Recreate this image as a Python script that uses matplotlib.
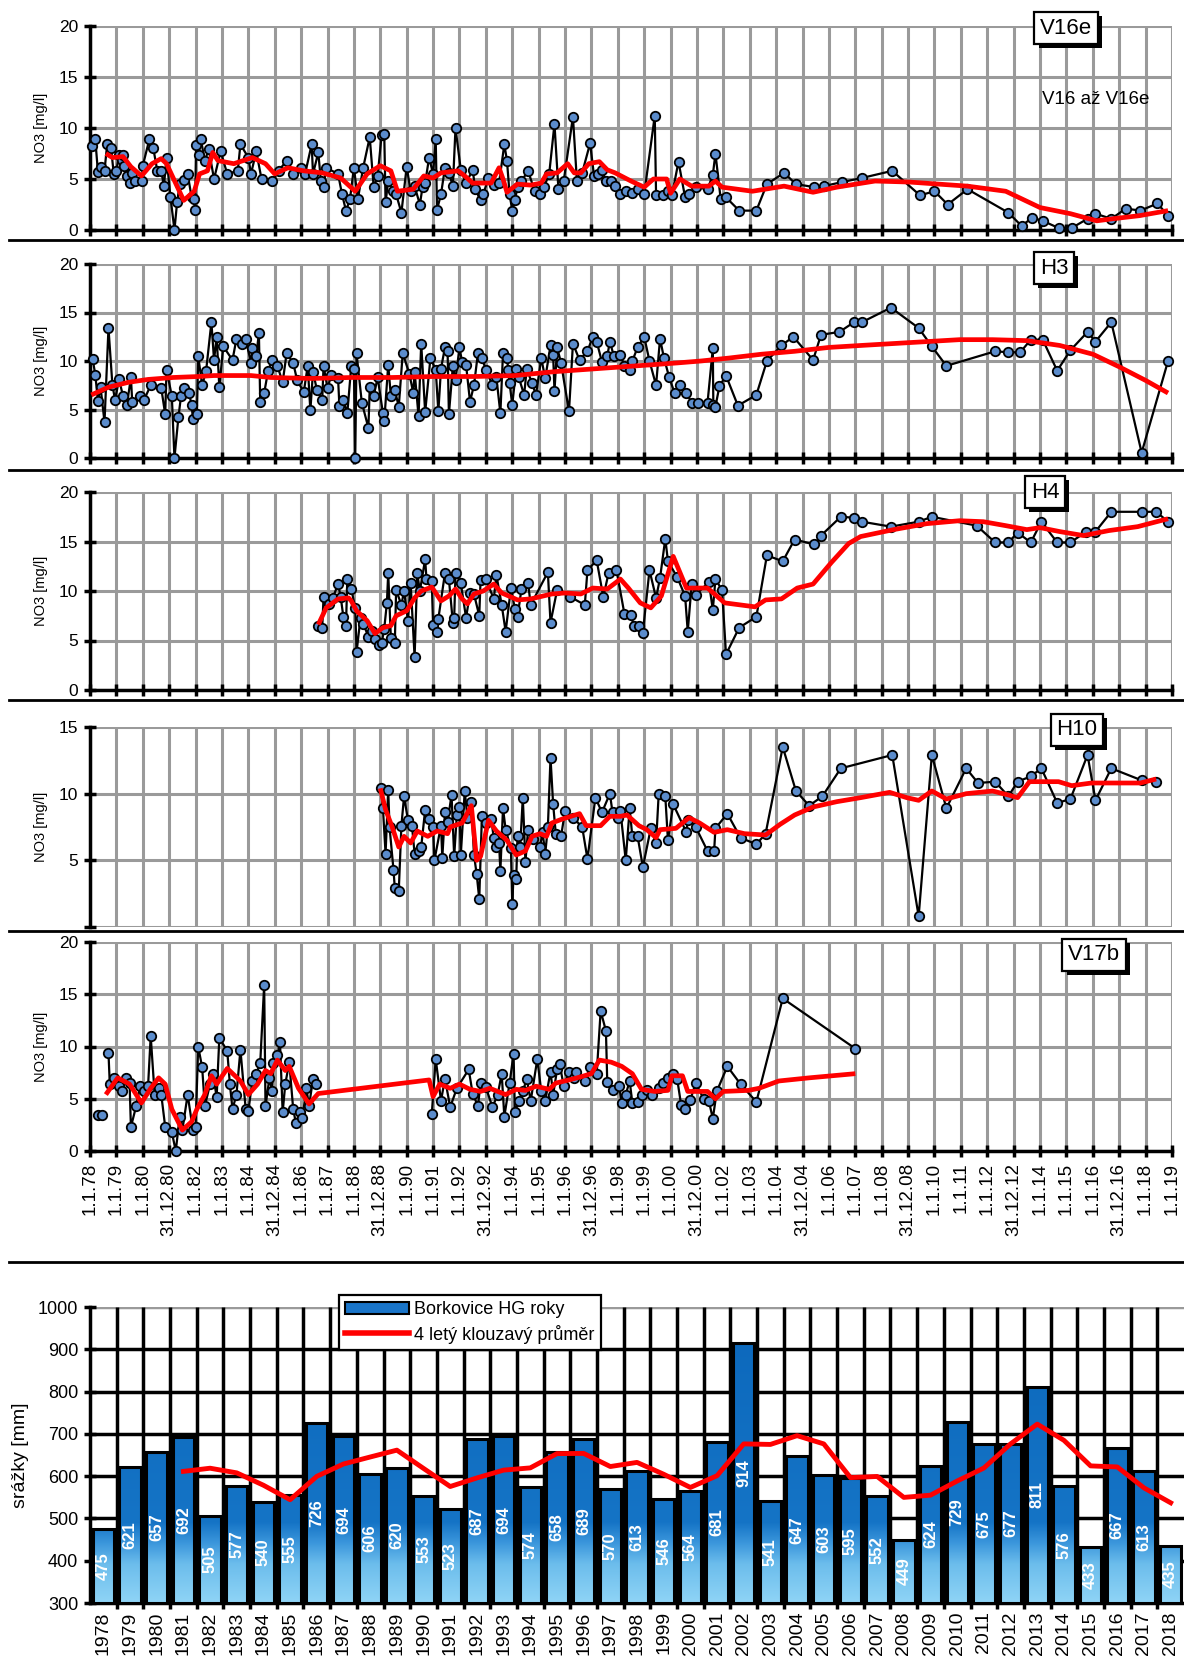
import numpy as np
import pandas as pd
import matplotlib
matplotlib.use('Agg')
import matplotlib.pyplot as plt
import matplotlib.patheffects as pe
from matplotlib.lines import Line2D
from matplotlib.patches import Patch
from matplotlib.colors import LinearSegmentedColormap

# ---------------- data ----------------
tick_labels = ['1.1.78', '1.1.79', '1.1.80', '31.12.80', '1.1.82', '1.1.83', '1.1.84', '31.12.84',
               '1.1.86', '1.1.87', '1.1.88', '31.12.88', '1.1.90', '1.1.91', '1.1.92', '31.12.92',
               '1.1.94', '1.1.95', '1.1.96', '31.12.96', '1.1.98', '1.1.99', '1.1.00', '31.12.00',
               '1.1.02', '1.1.03', '1.1.04', '31.12.04', '1.1.06', '1.1.07', '1.1.08', '31.12.08',
               '1.1.10', '1.1.11', '1.1.12', '31.12.12', '1.1.14', '1.1.15', '1.1.16', '31.12.16',
               '1.1.18', '1.1.19']

# V16e  (time in decimal years, NO3 in mg/l)
v16e_t = [1978.07, 1978.2, 1978.3, 1978.4, 1978.55, 1978.65, 1978.8, 1978.9, 1979.0, 1979.1, 1979.2,
          1979.25, 1979.3, 1979.4, 1979.5, 1979.6, 1979.7, 1979.98, 1980.0, 1980.25, 1980.4, 1980.55,
          1980.7, 1980.8, 1980.9, 1981.05, 1981.2, 1981.3, 1981.4, 1981.55, 1981.7, 1981.85, 1981.95,
          1981.98, 1982.02, 1982.12, 1982.2, 1982.35, 1982.5, 1982.7, 1982.95, 1983.2, 1983.6, 1983.7,
          1984.0, 1984.1, 1984.3, 1984.5, 1984.9, 1985.15, 1985.45, 1985.7, 1986.0, 1986.15, 1986.4,
          1986.45, 1986.65, 1986.75, 1986.85, 1986.95, 1987.4, 1987.55, 1987.7, 1987.85, 1988.0,
          1988.15, 1988.35, 1988.6, 1988.75, 1988.9, 1989.05, 1989.15, 1989.2, 1989.3, 1989.5, 1989.6,
          1989.8, 1990.0, 1990.15, 1990.3, 1990.5, 1990.6, 1990.7, 1990.85, 1991.0, 1991.1, 1991.15,
          1991.3, 1991.45, 1991.6, 1991.75, 1991.85, 1992.05, 1992.25, 1992.5, 1992.6, 1992.8, 1992.9,
          1993.1, 1993.3, 1993.5, 1993.7, 1993.8, 1993.9, 1994.0, 1994.1, 1994.2, 1994.35, 1994.6,
          1994.85, 1995.05, 1995.2, 1995.4, 1995.6, 1995.75, 1995.95, 1996.3, 1996.45, 1996.65,
          1996.95, 1997.1, 1997.25, 1997.4, 1997.55, 1997.75, 1997.9, 1998.1, 1998.3, 1998.55, 1998.75,
          1999.0, 1999.4, 1999.45, 1999.7, 1999.9, 2000.05, 2000.3, 2000.55, 2000.7, 2000.95, 2001.4,
          2001.6, 2001.7, 2001.9, 2002.1, 2002.6, 2003.25, 2003.65, 2004.3, 2004.75, 2005.45, 2005.8,
          2006.5, 2007.25, 2008.4, 2009.45, 2010.0, 2010.5, 2011.25, 2012.8, 2013.3, 2013.7, 2014.1,
          2014.7, 2015.2, 2015.8, 2016.1, 2016.7, 2017.25, 2017.8, 2018.45, 2018.85]
v16e_no3 = [8.2, 8.9, 5.7, 6.2, 5.8, 8.4, 8.0, 5.5, 5.8, 7.4, 6.9,
            7.4, 6.3, 5.3, 4.6, 5.6, 4.8, 4.8, 6.3, 8.9, 8.0, 5.8,
            5.8, 4.3, 7.1, 3.2, 0.0, 2.7, 4.5, 4.9, 5.5, 3.2, 3.0,
            2.0, 8.3, 7.4, 8.9, 6.8, 7.9, 5.0, 7.7, 5.5, 5.8, 8.4,
            7.1, 5.5, 7.7, 5.0, 4.8, 5.8, 6.8, 5.5, 6.1, 5.5, 8.4,
            5.5, 7.6, 4.8, 4.2, 6.1, 5.5, 3.5, 1.9, 3.0, 6.1,
            3.0, 6.1, 9.1, 4.2, 5.3, 9.3, 9.4, 2.7, 4.8, 3.8, 3.5,
            1.7, 6.2, 3.8, 4.3, 2.5, 4.2, 4.6, 7.1, 5.5, 8.9, 2.0,
            3.5, 6.1, 5.6, 4.3, 10.0, 5.9, 4.6, 5.9, 4.0, 2.9, 3.5,
            5.1, 4.4, 4.6, 8.4, 6.8, 3.5, 1.9, 2.9, 4.2, 4.8, 5.8,
            3.8, 3.5, 4.2, 5.5, 10.4, 4.0, 4.8, 11.1, 4.8, 5.6,
            8.5, 5.3, 5.5, 5.9, 4.8, 4.8, 4.3, 3.5, 3.8, 3.6, 4.0,
            3.5, 11.2, 3.4, 3.4, 3.8, 3.4, 6.7, 3.2, 3.5, 4.2, 4.0,
            5.4, 7.5, 3.0, 3.2, 1.9, 1.9, 4.5, 5.6, 4.5, 4.2, 4.3,
            4.7, 5.1, 5.8, 3.4, 3.8, 2.5, 4.0, 1.7, 0.4, 1.2, 0.9,
            0.2, 0.2, 1.1, 1.6, 1.1, 2.1, 1.9, 2.6, 1.4]
v16e_ma_t = [1978.6, 1978.85, 1979.25, 1979.55, 1979.95, 1980.35, 1980.7, 1980.9, 1981.55, 1981.95,
             1982.15, 1982.45, 1982.65, 1982.85, 1983.45, 1984.15, 1984.65, 1985.0, 1985.5, 1986.1,
             1986.8, 1987.5, 1988.05, 1988.5, 1989.0, 1989.4, 1989.65, 1990.25, 1990.65, 1991.0,
             1991.3, 1991.95, 1992.2, 1992.5, 1993.2, 1993.5, 1993.65, 1993.8, 1994.2, 1994.7, 1995.1,
             1995.3, 1995.7, 1996.1, 1996.35, 1996.6, 1996.9, 1997.3, 1997.6, 1997.9, 1998.5, 1999.0,
             1999.35, 1999.85, 2000.0, 2000.35, 2000.8, 2001.45, 2001.7, 2001.95, 2003.1, 2004.3,
             2005.4, 2006.3, 2007.75, 2009.05, 2011.25, 2012.7, 2014.0, 2015.15, 2016.15, 2016.75,
             2017.75, 2018.85]
v16e_ma = [7.5, 7.1, 7.2, 6.2, 5.3, 6.5, 7.0, 6.5, 2.9, 3.8,
           5.5, 5.8, 7.6, 6.8, 6.5, 7.1, 6.5, 5.5, 6.1, 5.8,
           5.6, 5.1, 3.8, 5.5, 6.3, 5.8, 3.8, 4.0, 5.3, 5.1,
           5.6, 5.8, 5.3, 4.6, 4.6, 6.1, 5.0, 3.7, 4.5, 4.4, 4.6,
           5.5, 5.6, 6.5, 5.6, 5.6, 6.5, 6.7, 5.9, 5.6, 4.8, 4.2,
           5.0, 5.0, 3.6, 5.0, 4.3, 4.3, 4.8, 4.2, 3.8, 4.3,
           3.7, 4.2, 4.8, 4.7, 4.3, 3.8, 2.2, 1.6, 0.9, 1.1,
           1.4, 1.9]

# H3
h3_t = [1978.1, 1978.2, 1978.3, 1978.4, 1978.55, 1978.7, 1978.85, 1978.95, 1979.1, 1979.25, 1979.4,
        1979.55, 1979.6, 1979.9, 1980.05, 1980.3, 1980.7, 1980.85, 1980.9, 1981.1, 1981.2, 1981.35,
        1981.45, 1981.55, 1981.75, 1981.85, 1981.9, 1982.05, 1982.1, 1982.25, 1982.4, 1982.6, 1982.7,
        1982.8, 1982.9, 1983.05, 1983.4, 1983.55, 1983.75, 1983.9, 1984.1, 1984.15, 1984.3, 1984.4,
        1984.45, 1984.6, 1984.75, 1984.9, 1985.1, 1985.3, 1985.45, 1985.7, 1985.85, 1986.1, 1986.25,
        1986.35, 1986.45, 1986.6, 1986.8, 1986.85, 1987.0, 1987.15, 1987.4, 1987.45, 1987.6, 1987.75,
        1987.9, 1988.0, 1988.05, 1988.1, 1988.3, 1988.55, 1988.6, 1988.75, 1988.9, 1989.1, 1989.15,
        1989.3, 1989.4, 1989.55, 1989.7, 1989.85, 1990.1, 1990.25, 1990.3, 1990.45, 1990.55, 1990.7,
        1990.9, 1991.1, 1991.2, 1991.3, 1991.45, 1991.55, 1991.6, 1991.75, 1991.85, 1992.0, 1992.1,
        1992.25, 1992.4, 1992.55, 1992.7, 1992.85, 1993.0, 1993.25, 1993.4, 1993.55, 1993.65, 1993.8,
        1993.85, 1993.9, 1994.0, 1994.15, 1994.25, 1994.45, 1994.55, 1994.75, 1994.9, 1995.1, 1995.25,
        1995.45, 1995.55, 1995.6, 1995.7, 1995.85, 1996.15, 1996.3, 1996.55, 1996.85, 1997.05, 1997.2,
        1997.4, 1997.6, 1997.7, 1997.85, 1998.1, 1998.25, 1998.45, 1998.55, 1998.75, 1999.0, 1999.2,
        1999.45, 1999.6, 1999.75, 1999.95, 2000.15, 2000.35, 2000.6, 2000.8, 2001.05, 2001.4, 2001.6,
        2001.62, 2001.7, 2001.85, 2002.1, 2002.55, 2003.25, 2003.65, 2004.2, 2004.65, 2005.4, 2005.7,
        2006.4, 2006.95, 2007.25, 2008.35, 2009.4, 2009.9, 2010.45, 2012.3, 2012.8, 2013.25, 2013.65,
        2014.1, 2014.65, 2015.15, 2015.8, 2016.1, 2016.7, 2017.85, 2018.85]
h3_no3 = [10.2, 8.6, 5.9, 7.3, 3.7, 13.4, 7.5, 6.0, 8.1, 6.4, 5.5,
          8.3, 5.8, 6.4, 6.0, 7.5, 7.2, 4.5, 9.1, 6.4, 0.0, 4.2,
          6.4, 7.2, 6.7, 5.5, 4.0, 4.5, 10.5, 7.5, 9.0, 14.0, 10.1,
          12.5, 7.3, 11.5, 10.1, 12.3, 11.8, 12.3, 9.8, 11.3, 10.5, 12.9,
          5.8, 6.7, 9.0, 10.1, 9.5, 7.8, 10.8, 9.8, 8.0, 6.8, 9.5,
          4.9, 8.9, 7.0, 6.0, 9.5, 7.2, 8.6, 8.2, 5.4, 6.0, 4.6,
          9.5, 9.2, 0.0, 10.8, 5.7, 3.1, 7.3, 6.4, 8.3, 4.6, 3.8,
          9.6, 6.4, 7.0, 5.3, 10.8, 8.7, 6.7, 8.9, 4.3, 11.8, 4.7,
          10.3, 9.1, 4.8, 9.2, 11.4, 11.0, 4.5, 9.5, 8.0, 11.4, 9.9,
          9.6, 5.8, 7.5, 10.8, 10.3, 9.1, 7.5, 8.3, 4.6, 10.8, 10.3,
          9.1, 7.7, 5.5, 9.2, 8.3, 6.5, 9.2, 7.7, 6.5, 10.3, 8.2,
          11.6, 10.6, 6.9, 11.4, 9.8, 4.8, 11.8, 10.1, 11.0, 12.5, 12.0,
          9.9, 10.5, 12.0, 10.5, 10.6, 9.5, 9.1, 10.0, 11.4, 12.5, 10.0,
          7.5, 12.3, 10.3, 8.3, 6.7, 7.5, 6.7, 5.7, 5.7, 5.7, 11.3,
          5.5, 5.3, 7.4, 8.5, 5.4, 6.5, 10.0, 11.6, 12.5, 10.1, 12.7,
          13.0, 14.0, 14.0, 15.5, 13.4, 11.5, 9.5, 11.0, 10.9, 10.9, 12.2,
          12.2, 9.0, 11.1, 13.0, 12.0, 14.0, 0.55, 10.0]
h3_ma_t = [1978.05, 1978.7, 1979.45, 1980.2, 1981.15, 1982.1, 1982.7, 1984.1, 1984.85, 1986.4, 1987.9,
           1989.45, 1991.0, 1992.55, 1994.1, 1995.6, 1997.15, 1998.7, 2000.25, 2001.15, 2002.2,
           2003.45, 2004.7, 2006.0, 2007.2, 2008.45, 2009.7, 2010.95, 2012.2, 2013.5, 2014.75,
           2016.0, 2017.0, 2018.0, 2018.85]
h3_ma = [6.5, 7.3, 7.8, 8.1, 8.3, 8.4, 8.5, 8.5, 8.3, 8.2, 8.3,
         8.3, 8.4, 8.4, 8.5, 8.9, 9.2, 9.5, 9.8, 10.0, 10.3,
         10.7, 11.0, 11.4, 11.6, 11.8, 12.0, 12.2, 12.2, 12.1, 11.6,
         10.7, 9.4, 8.0, 6.7]

# H4
h4_t = [1986.65, 1986.8, 1986.85, 1987.05, 1987.2, 1987.4, 1987.5, 1987.6, 1987.7, 1987.75, 1987.9,
        1988.05, 1988.1, 1988.25, 1988.35, 1988.55, 1988.7, 1988.8, 1988.95, 1989.05, 1989.15, 1989.25,
        1989.3, 1989.4, 1989.55, 1989.6, 1989.8, 1989.9, 1990.05, 1990.15, 1990.3, 1990.4, 1990.5,
        1990.7, 1990.75, 1990.95, 1991.0, 1991.15, 1991.2, 1991.45, 1991.6, 1991.75, 1991.8, 1991.85,
        1992.05, 1992.25, 1992.4, 1992.55, 1992.75, 1992.8, 1993.0, 1993.3, 1993.4, 1993.6, 1993.75,
        1993.95, 1994.1, 1994.2, 1994.35, 1994.6, 1994.7, 1995.35, 1995.45, 1995.7, 1996.2, 1996.75,
        1996.85, 1997.2, 1997.45, 1997.65, 1997.95, 1998.25, 1998.5, 1998.6, 1998.8, 1998.95, 1999.2,
        1999.45, 1999.6, 1999.8, 1999.9, 2000.25, 2000.55, 2000.65, 2000.8, 2000.95, 2001.45, 2001.6,
        2001.7, 2001.95, 2002.1, 2002.6, 2003.25, 2003.65, 2004.25, 2004.7, 2005.45, 2005.7, 2006.45,
        2006.95, 2007.25, 2008.35, 2009.4, 2009.9, 2011.6, 2012.3, 2012.8, 2013.15, 2013.65, 2014.05,
        2014.65, 2015.15, 2015.75, 2016.1, 2016.7, 2017.85, 2018.4, 2018.85]
h4_no3 = [6.5, 6.3, 9.4, 8.7, 9.3, 10.7, 9.4, 7.4, 6.5, 11.2, 10.2,
          8.3, 3.8, 7.3, 6.7, 5.4, 6.0, 5.2, 4.5, 4.7, 6.2, 8.8,
          11.8, 5.3, 4.7, 10.1, 8.6, 10.0, 7.0, 10.8, 3.3, 11.8, 10.0,
          13.2, 11.2, 11.0, 6.6, 5.9, 7.2, 11.8, 11.2, 6.8, 7.3, 11.8,
          10.8, 7.3, 9.8, 9.7, 7.5, 11.1, 11.2, 9.2, 11.6, 8.6, 5.9,
          10.3, 8.2, 7.4, 10.2, 10.8, 8.6, 11.9, 6.8, 10.1, 9.4, 8.6,
          12.1, 13.1, 9.4, 11.8, 12.1, 7.7, 7.6, 6.5, 6.5, 5.8, 12.1,
          9.3, 11.3, 15.3, 13.0, 11.4, 9.5, 5.9, 10.7, 9.6, 10.9, 8.1,
          11.2, 10.1, 3.6, 6.3, 7.4, 13.6, 13.0, 15.2, 14.7, 15.6, 17.5,
          17.4, 17.0, 16.5, 17.0, 17.5, 16.6, 14.9, 14.9, 15.9, 14.9, 17.0,
          14.9, 14.9, 16.0, 16.0, 18.0, 18.0, 18.0, 17.0]
h4_ma_t = [1986.65, 1986.95, 1987.4, 1987.8, 1987.9, 1988.1, 1988.5, 1988.8, 1989.1, 1989.4, 1989.6,
           1990.0, 1990.3, 1990.55, 1990.95, 1991.3, 1991.6, 1991.85, 1992.1, 1992.3, 1992.55, 1992.9,
           1993.3, 1993.6, 1993.95, 1994.2, 1994.7, 1995.5, 1996.0, 1996.6, 1997.05, 1997.6, 1998.1,
           1998.4, 1998.85, 1999.25, 1999.65, 2000.1, 2000.6, 2001.4, 2002.05, 2003.2, 2003.6, 2004.2,
           2004.8, 2005.4, 2006.1, 2006.75, 2007.2, 2008.45, 2009.7, 2010.95, 2011.85, 2012.7, 2013.5,
           2014.0, 2014.75, 2015.65, 2016.6, 2017.7, 2018.85]
h4_ma = [6.6, 8.3, 9.2, 9.3, 9.0, 8.0, 7.0, 5.7, 6.3, 6.5, 7.5,
         8.0, 9.3, 10.0, 10.4, 9.0, 9.5, 10.2, 9.2, 8.7, 9.7, 10.0,
         10.7, 9.8, 9.4, 9.1, 9.2, 9.7, 9.8, 9.7, 10.3, 10.2, 11.2,
         10.3, 8.8, 8.3, 9.5, 13.5, 10.3, 10.3, 8.8, 8.4, 9.1, 9.2,
         10.3, 10.7, 12.9, 14.8, 15.5, 16.2, 16.8, 17.1, 17.0, 16.6, 16.2,
         16.4, 16.0, 15.6, 16.1, 16.5, 17.3]

# H10
h10_t = [1989.03, 1989.1, 1989.2, 1989.3, 1989.35, 1989.5, 1989.55, 1989.7, 1989.8, 1989.9, 1990.05,
         1990.2, 1990.3, 1990.45, 1990.55, 1990.7, 1990.85, 1991.0, 1991.05, 1991.3, 1991.35, 1991.45,
         1991.55, 1991.7, 1991.8, 1991.9, 1992.0, 1992.05, 1992.2, 1992.3, 1992.45, 1992.55, 1992.65,
         1992.75, 1992.85, 1993.0, 1993.2, 1993.3, 1993.4, 1993.5, 1993.55, 1993.65, 1993.75, 1993.95,
         1994.0, 1994.05, 1994.15, 1994.2, 1994.3, 1994.4, 1994.5, 1994.6, 1994.8, 1995.05, 1995.15,
         1995.25, 1995.35, 1995.45, 1995.55, 1995.65, 1995.85, 1996.0, 1996.3, 1996.65, 1996.85,
         1997.15, 1997.4, 1997.7, 1997.8, 1998.0, 1998.1, 1998.3, 1998.45, 1998.55, 1998.75, 1998.95,
         1999.25, 1999.45, 1999.55, 1999.8, 1999.9, 2000.1, 2000.6, 2000.65, 2000.95, 2001.4, 2001.65,
         2001.7, 2002.15, 2002.65, 2003.25, 2003.6, 2004.25, 2004.75, 2005.25, 2005.75, 2006.45,
         2008.4, 2009.4, 2009.9, 2010.45, 2011.2, 2011.65, 2012.3, 2012.8, 2013.15, 2013.65, 2014.05,
         2014.65, 2015.15, 2015.8, 2016.1, 2016.7, 2017.85, 2018.4]
h10_no3 = [10.4, 8.9, 5.5, 10.3, 7.5, 4.3, 2.9, 2.7, 7.6, 9.8, 8.0,
           7.6, 5.5, 5.7, 6.0, 8.8, 8.1, 7.5, 5.0, 7.6, 5.2, 8.6,
           7.9, 9.9, 5.3, 8.4, 9.0, 5.4, 10.2, 8.2, 9.4, 5.4, 4.0,
           2.1, 8.3, 7.8, 8.1, 6.7, 6.0, 6.3, 4.2, 8.9, 7.3, 5.9,
           1.7, 3.9, 3.6, 6.8, 6.0, 9.7, 4.9, 7.3, 6.6, 6.0, 7.1,
           5.5, 7.5, 12.7, 9.2, 7.0, 6.8, 8.7, 8.2, 7.5, 5.1,
           9.7, 8.6, 10.0, 8.6, 8.2, 8.7, 5.0, 8.9, 6.8, 6.8, 4.5,
           7.4, 6.3, 10.0, 9.8, 6.5, 9.2, 7.1, 8.0, 7.5, 5.7, 5.7,
           7.4, 8.5, 6.7, 6.2, 7.0, 13.5, 10.2, 9.1, 9.8, 11.9,
           12.9, 0.8, 12.9, 8.9, 11.9, 10.8, 10.9, 9.8, 10.9, 11.3, 11.9,
           9.3, 9.6, 12.9, 9.5, 11.9, 11.0, 10.9]
h10_ma_t = [1989.0, 1989.2, 1989.45, 1989.7, 1989.9, 1990.15, 1990.4, 1990.8, 1991.15, 1991.55, 1991.65,
            1992.1, 1992.45, 1992.65, 1992.8, 1993.1, 1993.4, 1993.8, 1994.15, 1994.5, 1994.75, 1995.05,
            1995.3, 1995.5, 1995.9, 1996.55, 1996.8, 1997.35, 1997.7, 1998.1, 1998.35, 1998.8, 1999.1,
            1999.45, 1999.6, 2000.2, 2000.7, 2001.1, 2001.65, 2002.15, 2002.8, 2003.6, 2004.15, 2004.7,
            2005.4, 2006.3, 2007.2, 2008.3, 2008.95, 2009.4, 2009.9, 2010.45, 2011.2, 2012.2, 2012.8,
            2013.15, 2013.6, 2014.7, 2015.2, 2015.95, 2017.2, 2017.8, 2018.4]
h10_ma = [10.4, 8.8, 7.5, 6.0, 6.8, 6.3, 7.2, 6.8, 7.2, 7.0, 7.5,
          7.8, 9.1, 5.0, 5.3, 8.0, 7.2, 6.5, 5.4, 5.7, 6.8, 7.0,
          6.8, 7.8, 8.1, 8.5, 7.6, 7.6, 8.3, 8.3, 8.4, 7.6, 7.3,
          6.7, 7.3, 7.4, 8.2, 7.8, 7.1, 7.3, 7.0, 6.9, 7.7, 8.4,
          9.0, 9.4, 9.7, 10.1, 9.7, 9.5, 10.2, 9.6, 10.0, 10.2, 9.9,
          9.7, 10.9, 10.9, 10.6, 10.8, 10.8, 10.8, 11.1]

# V17b (NaN = gap in the record)
v17b_t = [1978.3, 1978.45, 1978.55, 1978.7, 1978.75, 1978.9, 1979.1, 1979.2, 1979.35, 1979.5, 1979.55,
          1979.75, 1979.9, 1980.05, 1980.2, 1980.3, 1980.45, 1980.6, 1980.7, 1980.85, 1981.1, 1981.25,
          1981.4, 1981.5, 1981.7, 1981.9, 1982.0, 1982.1, 1982.25, 1982.35, 1982.55, 1982.65, 1982.8,
          1982.9, 1983.2, 1983.3, 1983.4, 1983.55, 1983.7, 1983.9, 1984.0, 1984.15, 1984.3, 1984.45,
          1984.6, 1984.65, 1984.8, 1984.9, 1984.95, 1985.1, 1985.2, 1985.3, 1985.4, 1985.55, 1985.7,
          1985.8, 1985.95, 1986.05, 1986.2, 1986.3, 1986.45, 1986.55, 1988.5, 1990.95, 1991.1, 1991.3,
          1991.45, 1991.65, 1991.9, 1992.35, 1992.5, 1992.7, 1992.8, 1993.0, 1993.25, 1993.45, 1993.6,
          1993.7, 1993.9, 1994.05, 1994.1, 1994.25, 1994.4, 1994.55, 1994.7, 1994.95, 1995.1, 1995.25,
          1995.45, 1995.55, 1995.7, 1995.8, 1995.95, 1996.15, 1996.35, 1996.4, 1996.75, 1996.95, 1997.2,
          1997.35, 1997.55, 1997.6, 1997.8, 1998.05, 1998.15, 1998.3, 1998.45, 1998.55, 1998.75, 1998.9,
          1999.1, 1999.3, 1999.55, 1999.7, 1999.9, 2000.1, 2000.25, 2000.4, 2000.55, 2000.75, 2000.95,
          2001.25, 2001.45, 2001.6, 2001.75, 2002.15, 2002.65, 2003.25, 2004.25, 2007.0]
v17b_no3 = [3.4, 3.4, np.nan, 9.4, 6.4, 7.0, 6.2, 5.7, 7.0, 6.5, 2.3,
            4.3, 6.2, 5.7, 6.2, 11.0, 5.4, 6.0, 5.4, 2.3, 1.8, 0.0,
            3.3, 2.0, 5.4, 2.0, 2.3, 10.0, 8.0, 4.3, 6.4, 7.4, 5.2,
            10.8, 9.6, 6.4, 4.0, 5.4, 9.7, 4.0, 3.8, 6.7, 7.4, 8.4,
            15.9, 4.3, 7.0, 5.7, 8.4, 9.2, 10.4, 3.7, 6.4, 8.5, 4.0,
            2.7, 3.7, 3.2, 6.0, 4.3, 6.9, 6.4, np.nan, 3.5, 8.8, 4.8,
            6.9, 4.2, 6.0, 7.8, 5.5, 4.3, 6.5, 6.1, 4.2, 5.4, 7.4,
            3.3, 6.5, 9.3, 3.7, 4.8, 5.7, 6.9, 4.8, 8.8, 5.7, 4.8,
            7.6, 5.4, 7.8, 8.3, 6.2, 7.6, 7.0, 7.6, 6.7, 8.0, 7.4,
            13.4, 11.5, 6.6, 5.8, 6.2, 4.6, 5.4, 6.7, 4.6, 4.7, 5.4,
            5.8, 5.4, 6.0, 6.5, 7.0, 7.4, 6.9, 4.4, 4.0, 4.9, 6.5,
            5.0, 4.8, 3.1, 5.7, 8.1, 6.4, 4.7, 14.6, 9.8]
v17b_ma_t = [1978.6, 1979.05, 1979.5, 1979.95, 1980.3, 1980.6, 1980.85, 1981.1, 1981.5, 1981.85, 1982.05,
             1982.35, 1982.6, 1982.8, 1983.2, 1983.7, 1984.0, 1984.35, 1984.65, 1984.85, 1985.1, 1985.4,
             1985.55, 1985.9, 1986.3, 1986.65, 1990.85, 1991.0, 1991.25, 1991.65, 1992.0, 1992.4, 1992.8,
             1993.15, 1993.75, 1994.15, 1994.5, 1994.9, 1995.4, 1995.65, 1996.15, 1996.6, 1997.0, 1997.3,
             1997.75, 1998.15, 1998.55, 1998.9, 1999.4, 1999.9, 2000.05, 2000.45, 2000.65, 2001.4, 2001.7,
             2002.0, 2002.95, 2003.35, 2004.1, 2005.25, 2007.0]
v17b_ma = [5.4, 7.0, 6.4, 4.6, 6.0, 7.0, 6.4, 4.0, 2.0, 2.8, 4.0,
           5.4, 7.2, 6.4, 7.9, 6.7, 5.4, 6.4, 7.7, 7.4, 8.7, 7.7,
           8.1, 6.0, 4.5, 5.5, 6.8, 5.2, 6.4, 6.0, 6.4, 5.9, 5.7,
           6.0, 5.4, 5.9, 5.8, 6.2, 5.9, 6.5, 6.8, 7.1, 7.4, 8.7,
           8.5, 8.1, 7.4, 5.9, 5.7, 5.8, 7.2, 7.2, 5.7, 5.7, 5.0,
           5.7, 5.8, 6.0, 6.7, 7.0, 7.4]

# precipitation Borkovice HG, yearly totals [mm]
years = list(range(1978, 2019))
precip = [475, 621, 657, 692, 505, 577, 540, 555, 726, 694, 606, 620, 553, 523, 687, 694, 574, 658, 689,
          570, 613, 546, 564, 681, 914, 541, 647, 603, 595, 552, 449, 624, 729, 675, 677, 811, 576, 433,
          667, 613, 435]

# ---------------- figure ----------------
plt.rcParams['font.family'] = ['Liberation Sans', 'DejaVu Sans']

W, H = 1184, 1662
fig = plt.figure(figsize=(W / 100, H / 100), dpi=100)


def px_axes(x0, y0, x1, y1):
    return fig.add_axes([x0 / W, 1 - y1 / H, (x1 - x0) / W, (y1 - y0) / H])


def label_box(x, y, s):
    t = fig.text(x / W, 1 - y / H, s, fontsize=16, ha='center', va='center', zorder=20,
                 bbox=dict(boxstyle='square,pad=0.25', fc='white', ec='black', lw=1.6))
    t.get_bbox_patch().set_path_effects([pe.withSimplePatchShadow(offset=(3, -3), shadow_rgbFace='black', alpha=1)])


def panel(box, t, v, ma_t, ma, ymax, yticks, name, name_xy, show_bottom=True, xlabels=False):
    ax = px_axes(*box)
    ax.set_xlim(1978, 2019)
    ax.set_ylim(0, ymax)
    ax.set_xticks(np.arange(1978, 2020))
    ax.set_yticks(yticks)
    ax.grid(True, color='#9a9a9a', lw=2.2)
    ax.set_axisbelow(True)
    for s in ['top', 'right']:
        ax.spines[s].set_visible(False)
    ax.spines['left'].set_linewidth(2.5)
    ax.spines['bottom'].set_linewidth(2.5)
    ax.spines['bottom'].set_visible(show_bottom)
    ax.tick_params(axis='both', direction='inout', length=9, width=2.5, labelsize=12.5, pad=4)
    if not show_bottom:
        ax.tick_params(axis='x', length=0)
    if xlabels:
        ax.set_xticklabels(tick_labels, rotation=90, fontsize=13.5)
    else:
        ax.set_xticklabels([])
    ax.set_ylabel('NO3 [mg/l]', fontsize=10.5, labelpad=8)
    ax.plot(t, v, color='black', lw=1.6, marker='o', ms=6.8, mfc='#5b8ccc', mec='black', mew=1.3,
            clip_on=False, zorder=3)
    ax.plot(ma_t, ma, color='#ff0000', lw=3.4, zorder=4, solid_capstyle='butt')
    label_box(*name_xy, name)
    return ax


RIGHT = 1172
ax1 = panel((90, 26, RIGHT, 230), v16e_t, v16e_no3, v16e_ma_t, v16e_ma, 20, [0, 5, 10, 15, 20],
            'V16e', (1066, 28))
ax1.text(1042 / W, 1 - 100 / H, 'V16 až V16e', transform=fig.transFigure, fontsize=13.5, va='center')
panel((90, 264, RIGHT, 458), h3_t, h3_no3, h3_ma_t, h3_ma, 20, [0, 5, 10, 15, 20], 'H3', (1054, 268))
panel((90, 492, RIGHT, 690), h4_t, h4_no3, h4_ma_t, h4_ma, 20, [0, 5, 10, 15, 20], 'H4', (1045, 492))
ax4 = panel((90, 727, RIGHT, 927), h10_t, h10_no3, h10_ma_t, h10_ma, 15, [0, 5, 10, 15], 'H10',
            (1077, 730), show_bottom=False)
ax4.set_yticklabels(['', '5', '10', '15'])
panel((90, 942, RIGHT, 1151), v17b_t, v17b_no3, v17b_ma_t, v17b_ma, 20, [0, 5, 10, 15, 20], 'V17b',
      (1094, 955), xlabels=True)

# separators between the stacked charts
for y in [240, 470, 700, 931, 1262]:
    fig.add_artist(Line2D([9 / W, 1], [1 - y / H, 1 - y / H], color='black', lw=2, transform=fig.transFigure))

# ---------------- precipitation ----------------
ax6 = px_axes(90, 1307, 1184, 1603)
idx = np.arange(len(years))
vals = np.array(precip)
ax6.set_xlim(-0.5, len(years) - 0.5)
ax6.set_ylim(300, 1000)

bar_cmap = LinearSegmentedColormap.from_list(
    'bars', [(0, '#8fd4f6'), (0.13, '#6cbdec'), (0.2, '#3c97dc'), (0.27, '#1574c6'), (1, '#0b67bb')])
grad = np.linspace(0, 1, 256).reshape(-1, 1)
bars = ax6.bar(idx, vals - 300, bottom=300, width=0.8, color='none', edgecolor='black', lw=2.2, zorder=4)
for rect in bars:
    im = ax6.imshow(grad, cmap=bar_cmap, aspect='auto', origin='lower', zorder=3,
                    extent=[rect.get_x(), rect.get_x() + rect.get_width(), 300, 1000])
    im.set_clip_path(rect)
ax6.set_xlim(-0.5, len(years) - 0.5)
ax6.set_ylim(300, 1000)

for yv in range(400, 1000, 100):
    ax6.axhline(yv, color='black', lw=2.5, zorder=1)
ax6.axhline(1000, color='#9a9a9a', lw=2.5, zorder=1)
ax6.vlines(idx[:-1] + 0.5, 300, 1000, color='black', lw=2.5, zorder=1)

ma4 = pd.Series(precip).rolling(4).mean()
ax6.plot(idx, ma4, color='#ff0000', lw=3.5, zorder=6)

for i, v in enumerate(precip):
    ax6.text(i, (300 + v) / 2, str(v), rotation=90, color='white', fontsize=12, fontweight='bold',
             ha='center', va='center', zorder=7)

for s in ['top', 'right']:
    ax6.spines[s].set_visible(False)
ax6.spines['left'].set_linewidth(2.5)
ax6.spines['bottom'].set_linewidth(2.5)
ax6.set_yticks(range(300, 1001, 100))
ax6.set_xticks(idx)
ax6.set_xticklabels([str(y) for y in years], rotation=90, fontsize=14)
ax6.set_xticks(idx[:-1] + 0.5, minor=True)
ax6.tick_params(axis='x', which='major', length=0, pad=6)
ax6.tick_params(axis='x', which='minor', direction='inout', length=9, width=2.5)
ax6.tick_params(axis='y', direction='inout', length=9, width=2.5, labelsize=13, pad=4)
ax6.set_ylabel('srážky [mm]', fontsize=14, labelpad=6)

handles = [Patch(facecolor='#1a75c9', edgecolor='black', lw=1.5),
           Line2D([], [], color='#ff0000', lw=4)]
leg = fig.legend(handles, ['Borkovice HG roky', '4 letý klouzavý průměr'], loc='upper left',
                 bbox_to_anchor=(330 / W, 1 - 1286 / H), fontsize=13, frameon=True, fancybox=False,
                 edgecolor='black', framealpha=1, handlelength=3.5, borderpad=0.35, labelspacing=0.35,
                 handletextpad=0.3)
leg.get_frame().set_linewidth(1.6)

plt.savefig('out.png', dpi=100)
